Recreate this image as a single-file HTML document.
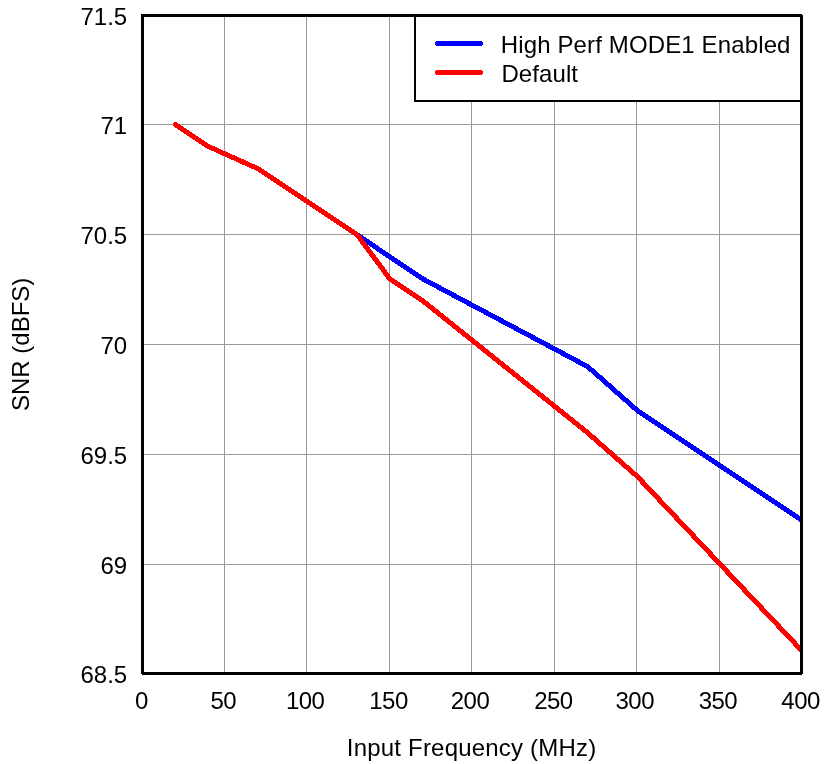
<!DOCTYPE html>
<html><head><meta charset="utf-8"><style>
html,body{margin:0;padding:0;background:#fff;width:839px;height:764px;overflow:hidden}
svg{display:block;will-change:transform}
text{font-family:"Liberation Sans",sans-serif;font-size:24px;fill:#000;}
.n{letter-spacing:-0.5px}
</style></head><body>
<svg width="839" height="764" viewBox="0 0 839 764">
<rect x="0" y="0" width="839" height="764" fill="#fff"/>
<defs><clipPath id="pc"><rect x="144" y="17" width="656" height="655"/></clipPath></defs>
<g stroke="#999" stroke-width="1" shape-rendering="crispEdges"><line x1="224.5" y1="17" x2="224.5" y2="672"/><line x1="306.5" y1="17" x2="306.5" y2="672"/><line x1="389.5" y1="17" x2="389.5" y2="672"/><line x1="471.5" y1="17" x2="471.5" y2="672"/><line x1="554.5" y1="17" x2="554.5" y2="672"/><line x1="636.5" y1="17" x2="636.5" y2="672"/><line x1="719.5" y1="17" x2="719.5" y2="672"/><line x1="144" y1="124.5" x2="800" y2="124.5"/><line x1="144" y1="234.5" x2="800" y2="234.5"/><line x1="144" y1="344.5" x2="800" y2="344.5"/><line x1="144" y1="454.5" x2="800" y2="454.5"/><line x1="144" y1="564.5" x2="800" y2="564.5"/></g>
<g clip-path="url(#pc)" fill="none" stroke-width="5" stroke-linejoin="round" stroke-linecap="round" shape-rendering="crispEdges">
<polyline stroke="#00f" points="175.49,124.50 208.48,146.50 257.96,168.72 356.92,234.50 389.91,256.94 422.90,278.94 587.84,366.72 637.32,410.50 802.26,520.50"/>
<polyline stroke="#f00" points="175.49,124.50 208.48,146.50 257.96,168.72 356.92,234.50 389.91,278.94 422.90,300.94 587.84,432.94 637.32,476.50 802.26,651.18"/>
</g>
<rect x="415" y="15.5" width="386.5" height="85.5" fill="#fff" stroke="#000" stroke-width="2" shape-rendering="crispEdges"/>
<line x1="437.5" y1="43.5" x2="480.5" y2="43.5" stroke="#00f" stroke-width="5" stroke-linecap="round" shape-rendering="crispEdges"/>
<line x1="437.5" y1="72.5" x2="480.5" y2="72.5" stroke="#f00" stroke-width="5" stroke-linecap="round" shape-rendering="crispEdges"/>
<text x="500.8" y="53" style="letter-spacing:0.13px">High Perf MODE1 Enabled</text>
<text x="501.40000000000003" y="82" style="letter-spacing:0.1px">Default</text>
<g fill="#000" shape-rendering="crispEdges"><rect x="141" y="14" width="661" height="3"/><rect x="800" y="15" width="3" height="659"/><rect x="142" y="672" width="660" height="3"/><rect x="141" y="14" width="3" height="660"/></g>
<text x="127.2" y="25" text-anchor="end">71.5</text><text x="127.2" y="133.8" text-anchor="end">71</text><text x="127.2" y="243.8" text-anchor="end">70.5</text><text x="127.2" y="353.8" text-anchor="end">70</text><text x="127.2" y="463.8" text-anchor="end">69.5</text><text x="127.2" y="573.8" text-anchor="end">69</text><text x="127.2" y="683" text-anchor="end">68.5</text>
<text class="n" x="141.5" y="708.5" text-anchor="middle">0</text><text class="n" x="223.35" y="708.5" text-anchor="middle">50</text><text class="n" x="305.15" y="708.5" text-anchor="middle">100</text><text class="n" x="388.5" y="708.5" text-anchor="middle">150</text><text class="n" x="470.0" y="708.5" text-anchor="middle">200</text><text class="n" x="553.4" y="708.5" text-anchor="middle">250</text><text class="n" x="634.8" y="708.5" text-anchor="middle">300</text><text class="n" x="717.9" y="708.5" text-anchor="middle">350</text><text class="n" x="800.6" y="708.5" text-anchor="middle">400</text>
<text x="346.8" y="756" style="letter-spacing:0.2px">Input Frequency (MHz)</text>
<text transform="translate(29,411) rotate(-90)" x="0" y="0" style="letter-spacing:0px">SNR (dBFS)</text>
</svg>
</body></html>
